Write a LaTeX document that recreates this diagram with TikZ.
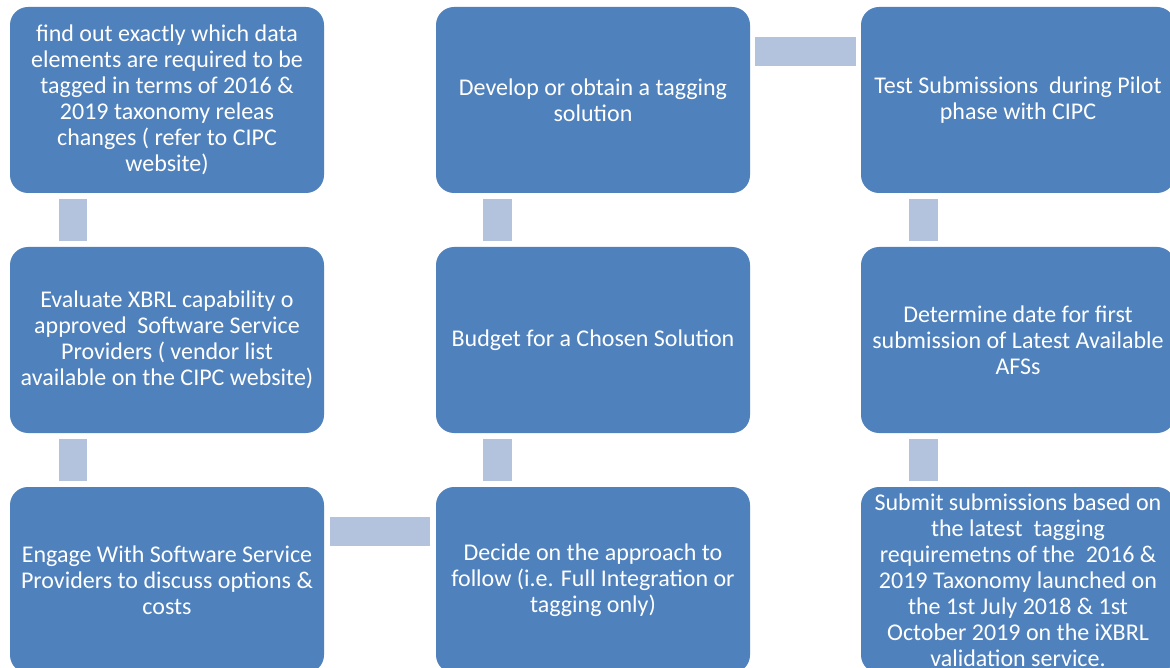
\documentclass[tikz,border=0pt]{standalone}
\usepackage{fontspec}
\setmainfont{Carlito}
\usepackage{tikz}
\usetikzlibrary{positioning}
\definecolor{BOXC}{HTML}{4F81BD}
\definecolor{LNKC}{HTML}{B3C3DD}
\tikzset{
  BOX/.style={% Style for the step boxes
      rectangle, rounded corners=18pt,
      minimum width=314pt,
      minimum height=186pt,
      inner sep=0pt,
      align=center,
      text=white,
      fill=BOXC,
      font=\fontsize{24}{26}\selectfont,
  },
  LINK/.style={% Style for the connector bars
      fill=LNKC,
  },
}
\begin{document}
\begin{tikzpicture}[x=1pt,y=-1pt]
    \useasboundingbox (0,0) rectangle (1170,668);
    % first column
    \node[BOX] (find) at (167,100) {find out exactly which data\\elements are required to be\\tagged in terms of 2016 \&\\2019 taxonomy releas\\changes ( refer to CIPC\\website)};
    \node[BOX] (evaluate) at (167,340) {Evaluate XBRL capability o\\approved\ \ Software Service\\Providers ( vendor list\\available on the CIPC website)};
    \node[BOX] (engage) at (167,580) {Engage With Software Service\\Providers to discuss options \&\\costs};
    % second column
    \node[BOX] (decide) at (593,580) {Decide on the approach to\\follow (i.e. Full Integration or\\tagging only)};
    \node[BOX] (budget) at (593,340) {Budget for a Chosen Solution};
    \node[BOX] (develop) at (593,100) {Develop or obtain a tagging\\solution};
    % third column
    \node[BOX] (test) at (1018,100) {Test Submissions\ \ during Pilot\\phase with CIPC};
    \node[BOX] (determine) at (1018,340) {Determine date for first\\submission of Latest Available\\AFSs};
    \node[BOX] (submit) at (1018,580) {Submit submissions based on\\the latest\ \ tagging\\requiremetns of the\ \ 2016 \&\\2019 Taxonomy launched on\\the 1st July 2018 \& 1st\\October 2019 on the iXBRL\\validation service.};
    % connector bars
    \fill[LINK] ([xshift=49pt,yshift=-6pt]find.south west) rectangle ([xshift=77pt,yshift=6pt]evaluate.north west);
    \fill[LINK] ([xshift=49pt,yshift=-6pt]evaluate.south west) rectangle ([xshift=77pt,yshift=6pt]engage.north west);
    \fill[LINK] ([xshift=6pt,yshift=-30pt]engage.north east) rectangle ([xshift=-6pt,yshift=-59pt]decide.north west);
    \fill[LINK] ([xshift=47pt,yshift=-6pt]budget.south west) rectangle ([xshift=76pt,yshift=6pt]decide.north west);
    \fill[LINK] ([xshift=47pt,yshift=-6pt]develop.south west) rectangle ([xshift=76pt,yshift=6pt]budget.north west);
    \fill[LINK] ([xshift=5pt,yshift=-30pt]develop.north east) rectangle ([xshift=-5pt,yshift=-59pt]test.north west);
    \fill[LINK] ([xshift=48pt,yshift=-6pt]test.south west) rectangle ([xshift=77pt,yshift=6pt]determine.north west);
    \fill[LINK] ([xshift=48pt,yshift=-6pt]determine.south west) rectangle ([xshift=77pt,yshift=6pt]submit.north west);
\end{tikzpicture}
\end{document}
